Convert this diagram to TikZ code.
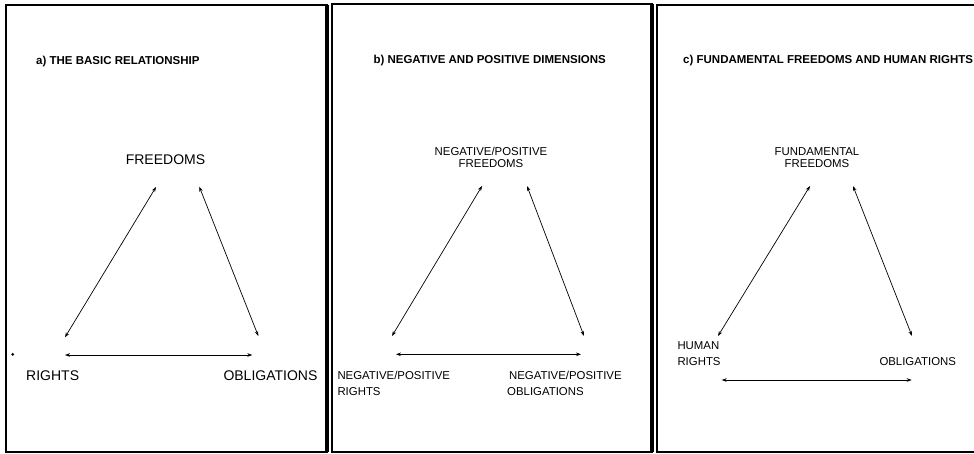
\documentclass[tikz,border=0pt]{standalone}
\usepackage{fontspec}
\setmainfont{Liberation Sans}
\usetikzlibrary{positioning, arrows.meta}

\begin{document}
\begin{tikzpicture}[x=1pt, y=-1pt,
  frame/.style={line width=1.8pt},
  shade/.style={line width=3.8pt},
  link/.style={{Stealth[length=5pt,width=3.6pt]}-{Stealth[length=5pt,width=3.6pt]}, line width=0.7pt},
  ttl/.style={anchor=base west, inner sep=0pt, font=\bfseries\fontsize{11.5}{13}\selectfont},
  big/.style={inner sep=0pt, font=\fontsize{14}{16}\selectfont},
  lbl/.style={inner sep=0pt, font=\fontsize{11.4}{16}\selectfont},
  top/.style={inner sep=0pt, align=center, anchor=base, font=\fontsize{11.4}{12.5}\selectfont}]
\useasboundingbox (0,0) rectangle (974,453);
\clip (0,0) rectangle (974,453);

\draw[frame] (6,5) rectangle (327,452);
\draw[shade] (327,5) -- (327,452);
\draw[frame] (331.7,3.7) rectangle (652,452);
\draw[shade] (652,3.7) -- (652,452);
\draw[frame] (656.7,5) rectangle (990,452);

\node[ttl] (ta) at (36,64) {a) THE BASIC RELATIONSHIP};
\node[big, anchor=base] (Fr) at (165.5,164) {FREEDOMS};
\node[big, anchor=base west] (Ri) at (26,380) {RIGHTS};
\node[big, anchor=base west] (Ob) at (223.3,380) {OBLIGATIONS};
\node[circle, fill, inner sep=0pt, minimum size=3pt] (dot) at (12.7,354.3) {};

\coordinate (FrL) at (156,187);
\coordinate (FrR) at (199.3,186.7);
\coordinate (RiT) at (65,337.3);
\coordinate (ObT) at (258.3,336);
\coordinate (RiS) at (65,355);
\coordinate (ObS) at (252.3,355);
\draw[link] (FrL) -- (RiT);
\draw[link] (FrR) -- (ObT);
\draw[link] (RiS) -- (ObS);

\node[ttl] (tb) at (373.3,63.3) {b) NEGATIVE AND POSITIVE DIMENSIONS};
\node[top] (NPF) at (491,167.5) {NEGATIVE/POSITIVE\\FREEDOMS};
\node[lbl, align=left, anchor=base west] (NPR) at (337.3,395.5) {NEGATIVE/POSITIVE\\RIGHTS};
\node[lbl, align=left, anchor=base west] (NPO) at (507,395.5) {\,NEGATIVE/POSITIVE\\OBLIGATIONS};

\coordinate (NPFL) at (482,186);
\coordinate (NPFR) at (527,186);
\coordinate (NPRT) at (392,336);
\coordinate (NPOT) at (584,336);
\coordinate (NPRS) at (396,354.3);
\coordinate (NPOS) at (581,354.3);
\draw[link] (NPFL) -- (NPRT);
\draw[link] (NPFR) -- (NPOT);
\draw[link] (NPRS) -- (NPOS);

\node[ttl] (tc) at (683,63.3) {c) FUNDAMENTAL FREEDOMS AND HUMAN RIGHTS};
\node[top] (FF) at (817,167.5) {FUNDAMENTAL\\FREEDOMS};
\node[lbl, align=left, anchor=base west] (HR) at (677.3,365) {HUMAN\\RIGHTS};
\node[lbl, anchor=base west] (Obc) at (879.3,365) {OBLIGATIONS};

\coordinate (FFL) at (810,186);
\coordinate (FFR) at (853,186);
\coordinate (HRT) at (718,336);
\coordinate (ObcT) at (912,336);
\coordinate (HRS) at (721.7,380);
\coordinate (ObcS) at (911.7,380);
\draw[link] (FFL) -- (HRT);
\draw[link] (FFR) -- (ObcT);
\draw[link] (HRS) -- (ObcS);
\end{tikzpicture}
\end{document}
